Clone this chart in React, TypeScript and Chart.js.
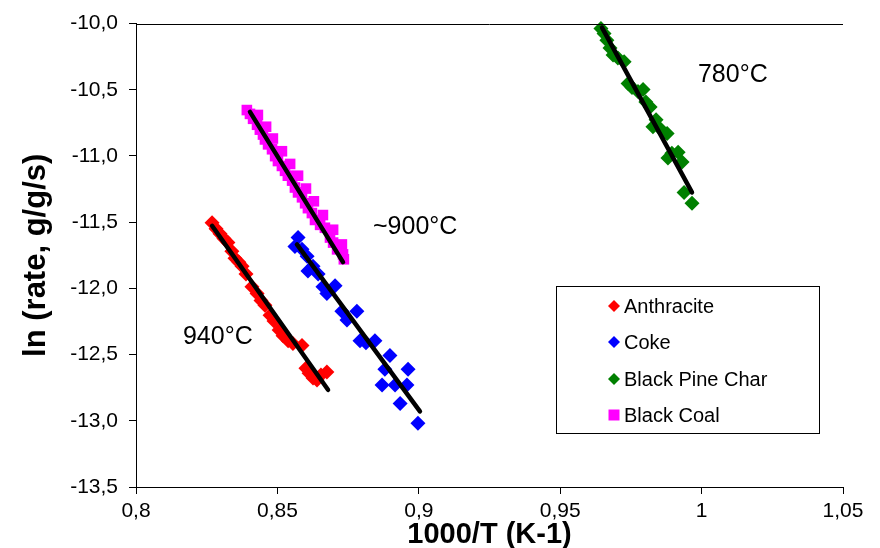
import { useEffect, useRef } from "react";
import { Chart, registerables } from "chart.js";

Chart.register(...registerables);

// ---------- data ----------
const seriesNames = ["Anthracite", "Coke", "Black Pine Char", "Black Coal"];
const seriesColors = ["#FF0000", "#0000FF", "#008000", "#FF00FF"];
const seriesShapes = ["rectRot", "rectRot", "rectRot", "rect"];

const anthraciteX = [0.8269, 0.8283, 0.8297, 0.8311, 0.8325, 0.8339, 0.835, 0.8364, 0.8375, 0.8389, 0.841, 0.8428, 0.8442, 0.8456, 0.8474, 0.8488, 0.8506, 0.852, 0.8538, 0.8555, 0.8587, 0.8601, 0.8612, 0.8626, 0.864, 0.8654, 0.8675];
const anthraciteY = [-11.505, -11.55, -11.587, -11.624, -11.654, -11.72, -11.772, -11.802, -11.832, -11.891, -11.987, -12.039, -12.091, -12.128, -12.202, -12.247, -12.314, -12.358, -12.395, -12.417, -12.432, -12.603, -12.64, -12.677, -12.692, -12.655, -12.632];

const cokeX = [0.8573, 0.8562, 0.8587, 0.8605, 0.8608, 0.8626, 0.8644, 0.8661, 0.8704, 0.8675, 0.8728, 0.8781, 0.8746, 0.8792, 0.8813, 0.8845, 0.8898, 0.888, 0.8962, 0.887, 0.8916, 0.8958, 0.8934, 0.8997];
const cokeY = [-11.616, -11.683, -11.705, -11.757, -11.869, -11.832, -11.891, -11.987, -11.98, -12.039, -12.173, -12.173, -12.239, -12.395, -12.41, -12.395, -12.506, -12.61, -12.61, -12.729, -12.729, -12.729, -12.87, -13.018];

const pineX = [0.9644, 0.9655, 0.9665, 0.9676, 0.9687, 0.9704, 0.9726, 0.974, 0.9754, 0.9775, 0.9793, 0.9803, 0.9818, 0.9839, 0.9828, 0.9853, 0.9878, 0.9881, 0.9895, 0.9917, 0.9931, 0.9938, 0.9966];
const pineY = [-10.037, -10.074, -10.126, -10.185, -10.237, -10.26, -10.289, -10.452, -10.482, -10.512, -10.497, -10.593, -10.63, -10.727, -10.779, -10.793, -10.83, -11.016, -10.979, -10.971, -11.046, -11.275, -11.357];

const coalX = [0.8392, 0.8403, 0.8414, 0.8428, 0.8438, 0.8449, 0.8456, 0.8467, 0.8481, 0.8492, 0.8502, 0.8516, 0.8527, 0.8537, 0.8552, 0.8562, 0.8573, 0.8587, 0.8598, 0.8608, 0.8622, 0.8633, 0.8651, 0.8668, 0.8686, 0.8697, 0.8711, 0.8732, 0.8735,
  0.8431, 0.846, 0.8484, 0.8516, 0.8545, 0.8573, 0.8601, 0.8629, 0.8661, 0.8697, 0.8728];
const coalY = [-10.653, -10.682, -10.719, -10.764, -10.801, -10.838, -10.875, -10.912, -10.949, -11.001, -11.038, -11.075, -11.112, -11.149, -11.186, -11.238, -11.275, -11.312, -11.357, -11.394, -11.431, -11.483, -11.52, -11.542, -11.616, -11.654, -11.705, -11.743, -11.78,
  -10.69, -10.779, -10.868, -10.964, -11.06, -11.149, -11.246, -11.342, -11.446, -11.557, -11.668];

// fitted trend lines (start, end)
const anthraciteFitX = [0.8269, 0.8679];
const anthraciteFitY = [-11.527, -12.766];
const cokeFitX = [0.8569, 0.9004];
const cokeFitY = [-11.668, -12.929];
const pineFitX = [0.9648, 0.9966];
const pineFitY = [-10.03, -11.275];
const coalFitX = [0.8403, 0.8732];
const coalFitY = [-10.667, -11.802];

const xTicks = [0.8, 0.85, 0.9, 0.95, 1.0, 1.05];
const yTicks = [-13.5, -13.0, -12.5, -12.0, -11.5, -11.0, -10.5, -10.0];

const annotationLabels = ["780°C", "~900°C", "940°C"];
const annotationX = [0.9987, 0.8838, 0.8166];
const annotationY = [-10.386, -11.535, -12.365];

const xTitle = "1000/T (K-1)";
const yTitle = "ln (rate, g/g/s)";

// ---------- helpers ----------
const pts = (xs: number[], ys: number[]) => xs.map((v, i) => ({ x: v, y: ys[i] }));
const fmt = (v: number, digits?: number) =>
  (digits !== undefined ? v.toFixed(digits) : String(Math.round(v * 100) / 100)).replace(".", ",");

const FONT = '"Liberation Sans", Arial, sans-serif';

const overlayPlugin = {
  id: "overlay",
  afterDatasetsDraw(chart: any) {
    const { ctx, chartArea, scales } = chart;
    const xs = scales.x;
    const ys = scales.y;
    ctx.save();
    // top border line
    ctx.strokeStyle = "#000";
    ctx.lineWidth = 1;
    ctx.beginPath();
    ctx.moveTo(chartArea.left, Math.round(chartArea.top) + 0.5);
    ctx.lineTo(chartArea.right, Math.round(chartArea.top) + 0.5);
    ctx.stroke();

    // annotations
    ctx.fillStyle = "#000";
    ctx.font = `25px ${FONT}`;
    ctx.textAlign = "left";
    ctx.textBaseline = "middle";
    annotationLabels.forEach((t, i) => {
      ctx.fillText(t, xs.getPixelForValue(annotationX[i]), ys.getPixelForValue(annotationY[i]));
    });

    // legend box
    const bx = 556, by = 286, bw = 263, bh = 147;
    ctx.fillStyle = "#fff";
    ctx.fillRect(bx, by, bw, bh);
    ctx.strokeStyle = "#000";
    ctx.lineWidth = 1;
    ctx.strokeRect(bx + 0.5, by + 0.5, bw, bh);
    const rowY = [306, 342, 379, 415];
    ctx.font = `20px ${FONT}`;
    ctx.textBaseline = "middle";
    seriesNames.forEach((name, i) => {
      const cx = 614, cy = rowY[i];
      ctx.fillStyle = seriesColors[i];
      ctx.beginPath();
      if (seriesShapes[i] === "rect") {
        ctx.rect(cx - 5.5, cy - 5.5, 11, 11);
      } else {
        ctx.moveTo(cx - 6, cy);
        ctx.lineTo(cx, cy - 6);
        ctx.lineTo(cx + 6, cy);
        ctx.lineTo(cx, cy + 6);
        ctx.closePath();
      }
      ctx.fill();
      ctx.fillStyle = "#000";
      ctx.fillText(name, 624, cy + 1);
    });
    ctx.restore();
  },
};

export default function App() {
  const canvasRef = useRef<HTMLCanvasElement | null>(null);

  useEffect(() => {
    const canvas = canvasRef.current;
    if (!canvas) return;
    const scatterSets = [
      [anthraciteX, anthraciteY],
      [cokeX, cokeY],
      [pineX, pineY],
      [coalX, coalY],
    ].map(([xs, ys], i) => ({
      label: seriesNames[i],
      data: pts(xs, ys),
      backgroundColor: seriesColors[i],
      borderColor: seriesColors[i],
      borderWidth: 0,
      pointStyle: seriesShapes[i],
      pointRadius: 7.5,
      showLine: false,
      clip: false,
      order: 2,
    }));
    const fitSets = [
      [anthraciteFitX, anthraciteFitY],
      [cokeFitX, cokeFitY],
      [pineFitX, pineFitY],
      [coalFitX, coalFitY],
    ].map(([xs, ys], i) => ({
      label: seriesNames[i] + " fit",
      data: pts(xs, ys),
      showLine: true,
      borderColor: "#000",
      backgroundColor: "#000",
      borderWidth: 4.5,
      borderCapStyle: "round",
      pointRadius: 0,
      clip: false,
      order: 1,
    }));

    const chart = new Chart(canvas, {
      type: "scatter",
      data: { datasets: [...fitSets, ...scatterSets] as any },
      options: {
        responsive: false,
        animation: false,
        devicePixelRatio: 1,
        layout: { padding: { left: 0, top: 15, right: 37, bottom: 0 } },
        plugins: { legend: { display: false }, tooltip: { enabled: false } },
        scales: {
          x: {
            type: "linear",
            min: 0.8,
            max: 1.05,
            afterBuildTicks: (scale: any) => {
              scale.ticks = xTicks.map((v) => ({ value: v }));
            },
            afterFit: (scale: any) => {
              scale.height = 61;
            },
            ticks: {
              color: "#000",
              font: { family: FONT, size: 21 },
              padding: 5,
              maxRotation: 0,
              callback: (v: any) => fmt(Number(v)),
            },
            grid: { display: true, drawOnChartArea: false, tickLength: 7, color: "#000", tickColor: "#000" },
            border: { display: true, color: "#000", width: 1 },
            title: {
              display: true,
              text: xTitle,
              color: "#000",
              font: { family: FONT, size: 29, weight: "bold", lineHeight: 1 },
              padding: { top: 0, bottom: -1 },
            },
          },
          y: {
            type: "linear",
            min: -13.5,
            max: -10,
            afterBuildTicks: (scale: any) => {
              scale.ticks = yTicks.map((v) => ({ value: v }));
            },
            afterFit: (scale: any) => {
              scale.width = 136;
            },
            ticks: {
              color: "#000",
              font: { family: FONT, size: 21 },
              padding: 11,
              callback: (v: any) => fmt(Number(v), 1),
            },
            grid: { display: true, drawOnChartArea: false, tickLength: 7, color: "#000", tickColor: "#000" },
            border: { display: true, color: "#000", width: 1 },
            title: {
              display: true,
              text: yTitle,
              color: "#000",
              font: { family: FONT, size: 31, weight: "bold", lineHeight: 1 },
              padding: { top: 21, bottom: 0 },
            },
          },
        },
      } as any,
      plugins: [overlayPlugin],
    });
    return () => chart.destroy();
  }, []);

  return (
    <div style={{ position: "absolute", left: 0, top: 0, width: 880, height: 548, background: "#fff" }}>
      <canvas ref={canvasRef} width={880} height={548} />
    </div>
  );
}
